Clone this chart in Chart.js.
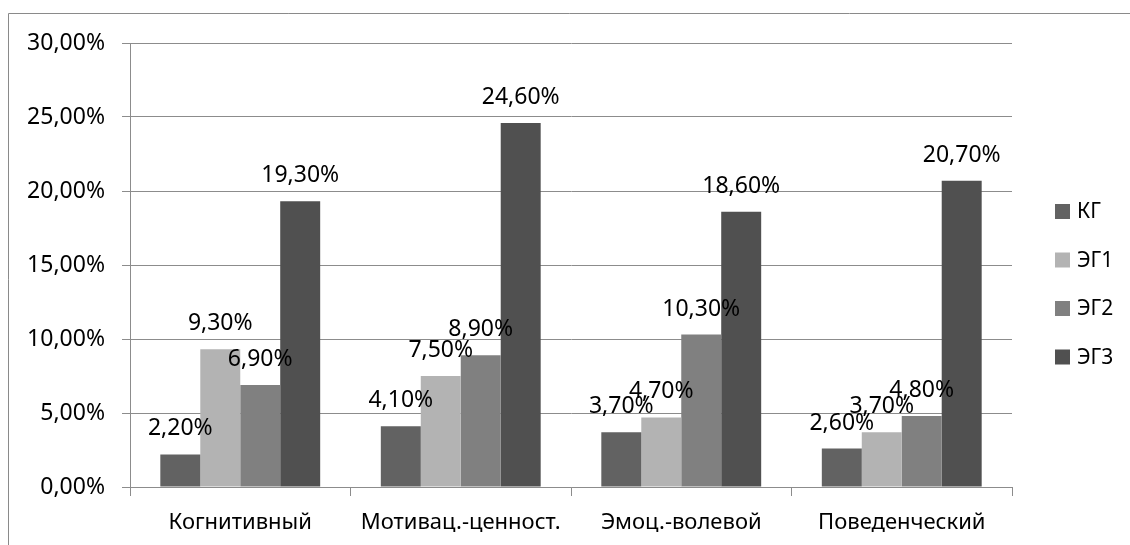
<!DOCTYPE html>
<html>
<head>
<meta charset="utf-8">
<script src="https://cdn.jsdelivr.net/npm/chart.js@4/dist/chart.umd.min.js"></script>
<style>
html,body{margin:0;padding:0;background:#fff;}
#wrap{width:1130px;height:545px;position:relative;}
</style>
</head>
<body>
<div id="wrap"><canvas id="c" width="1130" height="545"></canvas></div>
<script>
const categories = ["Когнитивный", "Мотивац.-ценност.", "Эмоц.-волевой", "Поведенческий"];
const seriesNames = ["КГ", "ЭГ1", "ЭГ2", "ЭГ3"];
const kg  = [2.2, 4.1, 3.7, 2.6];
const eg1 = [9.3, 7.5, 4.7, 3.7];
const eg2 = [6.9, 8.9, 10.3, 4.8];
const eg3 = [19.3, 24.6, 18.6, 20.7];
const yTicks = [0, 5, 10, 15, 20, 25, 30];
const colors = ["#626262", "#b3b3b3", "#808080", "#505050"];

const FONT = "'Noto Sans', sans-serif";
const fmt = v => v.toFixed(2).replace('.', ',') + '%';

const framePlugin = {
  id: 'frame',
  beforeDraw(chart) {
    const ctx = chart.ctx;
    ctx.save();
    ctx.strokeStyle = '#8a8a8a';
    ctx.lineWidth = 1;
    ctx.beginPath();
    ctx.moveTo(8.5, 545); ctx.lineTo(8.5, 13.5); ctx.lineTo(1130, 13.5);
    ctx.stroke();
    ctx.restore();
  }
};

const labelPlugin = {
  id: 'vlabels',
  afterDatasetsDraw(chart) {
    const ctx = chart.ctx;
    ctx.save();
    ctx.font = "23px " + FONT;
    ctx.fillStyle = '#000';
    ctx.textAlign = 'center';
    ctx.textBaseline = 'alphabetic';
    chart.data.datasets.forEach((ds, i) => {
      const meta = chart.getDatasetMeta(i);
      meta.data.forEach((el, j) => {
        ctx.fillText(fmt(ds.data[j]), el.x, el.y - 19);
      });
    });
    ctx.restore();
  }
};

const legendPlugin = {
  id: 'customLegend',
  afterDraw(chart) {
    const ctx = chart.ctx;
    ctx.save();
    ctx.font = "21px " + FONT;
    ctx.textAlign = 'left';
    ctx.textBaseline = 'middle';
    chart.data.datasets.forEach((ds, i) => {
      const cy = 211.5 + i * 48.5;
      ctx.fillStyle = ds.backgroundColor;
      ctx.fillRect(1055, cy - 7.5, 15, 15);
      ctx.fillStyle = '#000';
      ctx.fillText(ds.label, 1077, cy + 1);
    });
    ctx.restore();
  }
};

const datasets = [kg, eg1, eg2, eg3].map((d, i) => ({
  label: seriesNames[i],
  data: d,
  backgroundColor: colors[i],
  borderWidth: 0,
  categoryPercentage: 0.725,
  barPercentage: 1.0
}));

new Chart(document.getElementById('c'), {
  type: 'bar',
  data: { labels: categories, datasets },
  options: {
    responsive: false,
    animation: false,
    layout: { padding: { top: 43, right: 118, bottom: 0, left: 0 } },
    plugins: { legend: { display: false }, tooltip: { enabled: false } },
    scales: {
      x: {
        grid: { display: true, offset: true, drawOnChartArea: false, drawTicks: true, tickLength: 9, color: '#8c8c8c' },
        border: { display: true, color: '#8c8c8c' },
        ticks: { font: { family: FONT, size: 22 }, color: '#000', padding: 14, maxRotation: 0, autoSkip: false },
        afterFit(scale) { scale.height = 58; }
      },
      y: {
        min: 0, max: 30,
        afterBuildTicks(scale) { scale.ticks = yTicks.map(v => ({ value: v })); },
        grid: { color: '#8c8c8c', tickLength: 8 },
        border: { display: true, color: '#8c8c8c' },
        ticks: { font: { family: FONT, size: 23 }, color: '#000', padding: 17, callback: v => fmt(v) },
        afterFit(scale) { scale.width = 130; }
      }
    }
  },
  plugins: [framePlugin, labelPlugin, legendPlugin]
});
</script>
</body>
</html>
